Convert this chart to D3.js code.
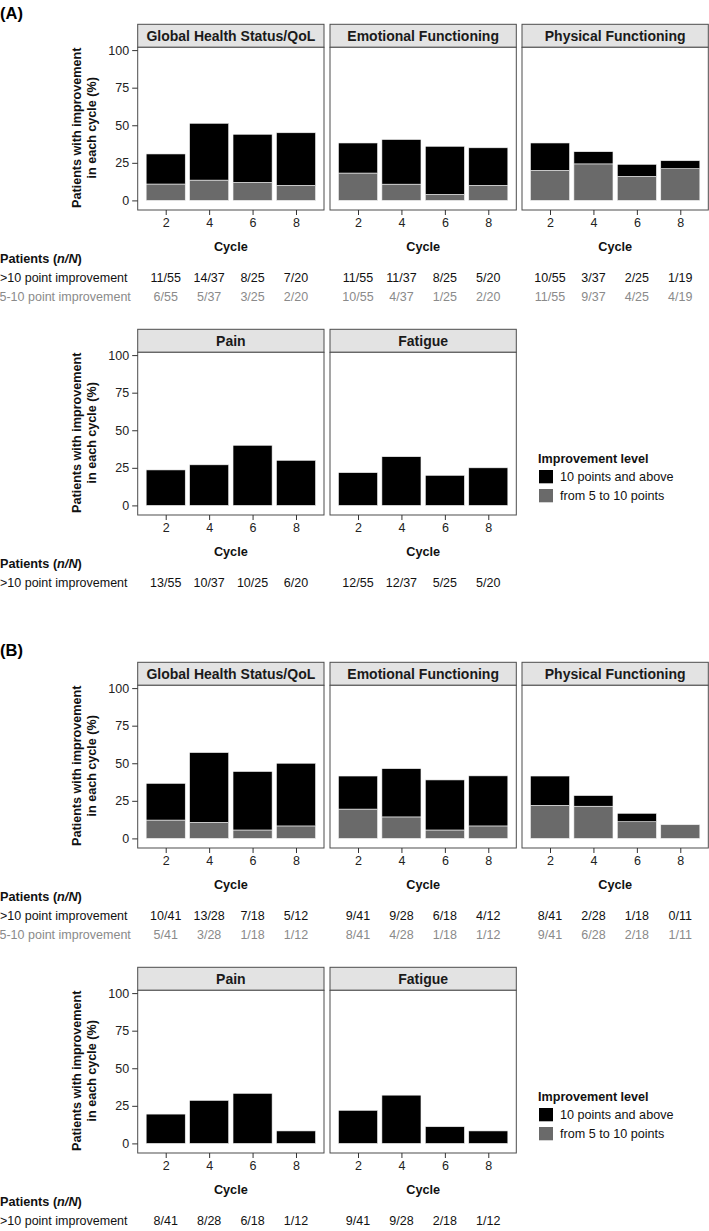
<!DOCTYPE html>
<html><head><meta charset="utf-8">
<script src="https://cdn.jsdelivr.net/npm/d3@7"></script>
<style>
html,body{margin:0;padding:0;background:#fff;}
svg{display:block;font-family:"Liberation Sans",Arial,Helvetica,sans-serif;}
</style></head>
<body>
<svg id="chart" width="709" height="1231"></svg>
<script>
// ---------- data ----------
const cycles = [2, 4, 6, 8];
const yTicks = [0, 25, 50, 75, 100];
const panelNames = ["Global Health Status/QoL", "Emotional Functioning", "Physical Functioning", "Pain", "Fatigue"];
const legendLabels = ["10 points and above", "from 5 to 10 points"];
const tableRowLabels = [">10 point improvement", "5-10 point improvement"];

// (A) percentages: >=10 points (high) and 5-10 points (mid)
const aGlobalHigh = [20.0, 37.8, 32.0, 35.0];
const aGlobalMid  = [10.9, 13.5, 12.0, 10.0];
const aEmotHigh   = [20.0, 29.7, 32.0, 25.0];
const aEmotMid    = [18.2, 10.8, 4.0, 10.0];
const aPhysHigh   = [18.2, 8.1, 8.0, 5.3];
const aPhysMid    = [20.0, 24.3, 16.0, 21.1];
const aPainHigh   = [23.6, 27.0, 40.0, 30.0];
const aFatHigh    = [21.8, 32.4, 20.0, 25.0];
// (A) n/N labels
const aGlobalHighN = ["11/55", "14/37", "8/25", "7/20"];
const aGlobalMidN  = ["6/55", "5/37", "3/25", "2/20"];
const aEmotHighN   = ["11/55", "11/37", "8/25", "5/20"];
const aEmotMidN    = ["10/55", "4/37", "1/25", "2/20"];
const aPhysHighN   = ["10/55", "3/37", "2/25", "1/19"];
const aPhysMidN    = ["11/55", "9/37", "4/25", "4/19"];
const aPainHighN   = ["13/55", "10/37", "10/25", "6/20"];
const aFatHighN    = ["12/55", "12/37", "5/25", "5/20"];

// (B) percentages
const bGlobalHigh = [24.4, 46.4, 38.9, 41.7];
const bGlobalMid  = [12.2, 10.7, 5.6, 8.3];
const bEmotHigh   = [22.0, 32.1, 33.3, 33.3];
const bEmotMid    = [19.5, 14.3, 5.6, 8.3];
const bPhysHigh   = [19.5, 7.1, 5.6, 0.0];
const bPhysMid    = [22.0, 21.4, 11.1, 9.1];
const bPainHigh   = [19.5, 28.6, 33.3, 8.3];
const bFatHigh    = [22.0, 32.1, 11.1, 8.3];
// (B) n/N labels
const bGlobalHighN = ["10/41", "13/28", "7/18", "5/12"];
const bGlobalMidN  = ["5/41", "3/28", "1/18", "1/12"];
const bEmotHighN   = ["9/41", "9/28", "6/18", "4/12"];
const bEmotMidN    = ["8/41", "4/28", "1/18", "1/12"];
const bPhysHighN   = ["8/41", "2/28", "1/18", "0/11"];
const bPhysMidN    = ["9/41", "6/28", "2/18", "1/11"];
const bPainHighN   = ["8/41", "8/28", "6/18", "1/12"];
const bFatHighN    = ["9/41", "9/28", "2/18", "1/12"];

// ---------- layout ----------
const svg = d3.select("#chart");
const colHigh = "#000000", colMid = "#6a6a6a";
const panelLeft = [137.7, 330, 522];
const panelW = 186.3;
const stripH = 23;
const panelH = 162.7;     // plot area height below strip
const borderCol = "#4d4d4d";
const rowHeadY = 234.7, rowHighY = 252.9, rowMidY = 272.4; // centres, relative to strip top

function drawRow(top, panels, withLegend, showMidRow) {
  const g = svg.append("g").attr("transform", `translate(0,${top})`);
  const y = d3.scaleLinear().domain([0, 100]).range([stripH + 153.1, stripH + 2.8]);
  const plotBottom = stripH + panelH;

  panels.forEach((p, i) => {
    const x0 = panelLeft[i];
    const x = d3.scaleLinear().domain([0.71, 9.29]).range([x0, x0 + panelW]);
    const pg = g.append("g");
    // strip
    pg.append("rect").attr("x", x0).attr("y", 0).attr("width", panelW).attr("height", stripH)
      .attr("fill", "#e3e3e3").attr("stroke", borderCol).attr("stroke-width", 1);
    pg.append("text").attr("x", x0 + panelW / 2).attr("y", stripH / 2 + 5)
      .attr("text-anchor", "middle").attr("font-weight", "bold").attr("font-size", 14)
      .attr("fill", "#1a1a1a").text(p.name);
    // panel background
    pg.append("rect").attr("x", x0).attr("y", stripH).attr("width", panelW).attr("height", panelH)
      .attr("fill", "#fff");
    // bars: mid (bottom) + high (top)
    const bw = x(1.8) - x(0);
    cycles.forEach((c, k) => {
      const mid = p.mid ? p.mid[k] : 0;
      const high = p.high[k];
      if (mid > 0) {
        pg.append("rect").attr("x", x(c) - bw / 2).attr("width", bw)
          .attr("y", y(mid)).attr("height", y(0) - y(mid))
          .attr("fill", colMid).attr("stroke", "#f2f2f2").attr("stroke-width", 0.6);
      }
      if (high > 0) {
        pg.append("rect").attr("x", x(c) - bw / 2).attr("width", bw)
          .attr("y", y(mid + high)).attr("height", y(mid) - y(mid + high))
          .attr("fill", colHigh).attr("stroke", "#f2f2f2").attr("stroke-width", 0.6);
      }
    });
    // panel border
    pg.append("rect").attr("x", x0).attr("y", stripH).attr("width", panelW).attr("height", panelH)
      .attr("fill", "none").attr("stroke", borderCol).attr("stroke-width", 1);
    // x axis
    const xa = pg.append("g").attr("transform", `translate(0,${plotBottom})`)
      .call(d3.axisBottom(x).tickValues(cycles).tickSize(5).tickPadding(3).tickFormat(d3.format("d")));
    xa.select(".domain").remove();
    xa.selectAll("line").attr("stroke", "#333");
    xa.selectAll("text").attr("font-size", 12.5).attr("fill", "#222")
      .attr("font-family", "'Liberation Sans',Arial,sans-serif");
    pg.append("text").attr("x", x0 + panelW / 2).attr("y", plotBottom + 41.5)
      .attr("text-anchor", "middle").attr("font-weight", "bold").attr("font-size", 12.7)
      .attr("fill", "#111").text("Cycle");
    // y axis only for first panel
    if (i === 0) {
      const ya = pg.append("g").attr("transform", `translate(${x0},0)`)
        .call(d3.axisLeft(y).tickValues(yTicks).tickSize(5.5).tickPadding(3));
      ya.select(".domain").remove();
      ya.selectAll("line").attr("stroke", "#333");
      ya.selectAll("text").attr("font-size", 12.5).attr("fill", "#222")
        .attr("font-family", "'Liberation Sans',Arial,sans-serif");
      const cy = 103.5;
      const yt = pg.append("text").attr("transform", `translate(81,${cy}) rotate(-90)`)
        .attr("text-anchor", "middle").attr("font-weight", "bold").attr("font-size", 12.6).attr("fill", "#111");
      yt.append("tspan").attr("x", 0).attr("dy", 0).text("Patients with improvement");
      yt.append("tspan").attr("x", 0).attr("dy", 15.3).text("in each cycle (%)");
    }
    // table values
    cycles.forEach((c, k) => {
      pg.append("text").attr("x", x(c)).attr("y", rowHighY + 4.5).attr("text-anchor", "middle")
        .attr("font-size", 12.5).attr("fill", "#111").text(p.highN[k]);
      if (showMidRow && p.midN) {
        pg.append("text").attr("x", x(c)).attr("y", rowMidY + 4.5).attr("text-anchor", "middle")
          .attr("font-size", 12.5).attr("fill", "#8a8a8a").text(p.midN[k]);
      }
    });
  });

  // table row labels
  const th = g.append("text").attr("x", 0).attr("y", rowHeadY + 4.5).attr("font-weight", "bold")
    .attr("font-size", 12.7).attr("fill", "#111");
  th.append("tspan").text("Patients (");
  th.append("tspan").attr("font-style", "italic").text("n/N");
  th.append("tspan").text(")");
  g.append("text").attr("x", 0).attr("y", rowHighY + 4.5).attr("font-size", 12.5).attr("fill", "#111")
    .text(tableRowLabels[0]);
  if (showMidRow) {
    g.append("text").attr("x", -0.5).attr("y", rowMidY + 4.5).attr("font-size", 12.5).attr("fill", "#8a8a8a")
      .text(tableRowLabels[1]);
  }

  if (withLegend) {
    const lg = g.append("g").attr("transform", "translate(538,0)");
    lg.append("text").attr("x", 0).attr("y", 129 + 4.5).attr("font-weight", "bold")
      .attr("font-size", 12.6).attr("fill", "#111").text("Improvement level");
    [colHigh, colMid].forEach((c, k) => {
      lg.append("rect").attr("x", 1).attr("y", 140.7 + k * 19).attr("width", 14).attr("height", 13.3)
        .attr("fill", c);
      lg.append("text").attr("x", 22).attr("y", 147.4 + k * 19 + 4.5).attr("font-size", 12.6)
        .attr("fill", "#111").text(legendLabels[k]);
    });
  }
}

// section labels
svg.append("text").attr("x", 0).attr("y", 18.5).attr("font-weight", "bold").attr("font-size", 16.5)
  .attr("fill", "#000").text("(A)");
svg.append("text").attr("x", 0).attr("y", 656).attr("font-weight", "bold").attr("font-size", 16.5)
  .attr("fill", "#000").text("(B)");

drawRow(24.3, [
  {name: panelNames[0], high: aGlobalHigh, mid: aGlobalMid, highN: aGlobalHighN, midN: aGlobalMidN},
  {name: panelNames[1], high: aEmotHigh, mid: aEmotMid, highN: aEmotHighN, midN: aEmotMidN},
  {name: panelNames[2], high: aPhysHigh, mid: aPhysMid, highN: aPhysHighN, midN: aPhysMidN}
], false, true);
drawRow(329.3, [
  {name: panelNames[3], high: aPainHigh, highN: aPainHighN},
  {name: panelNames[4], high: aFatHigh, highN: aFatHighN}
], true, false);
drawRow(662.3, [
  {name: panelNames[0], high: bGlobalHigh, mid: bGlobalMid, highN: bGlobalHighN, midN: bGlobalMidN},
  {name: panelNames[1], high: bEmotHigh, mid: bEmotMid, highN: bEmotHighN, midN: bEmotMidN},
  {name: panelNames[2], high: bPhysHigh, mid: bPhysMid, highN: bPhysHighN, midN: bPhysMidN}
], false, true);
drawRow(967.3, [
  {name: panelNames[3], high: bPainHigh, highN: bPainHighN},
  {name: panelNames[4], high: bFatHigh, highN: bFatHighN}
], true, false);
</script>
</body></html>
